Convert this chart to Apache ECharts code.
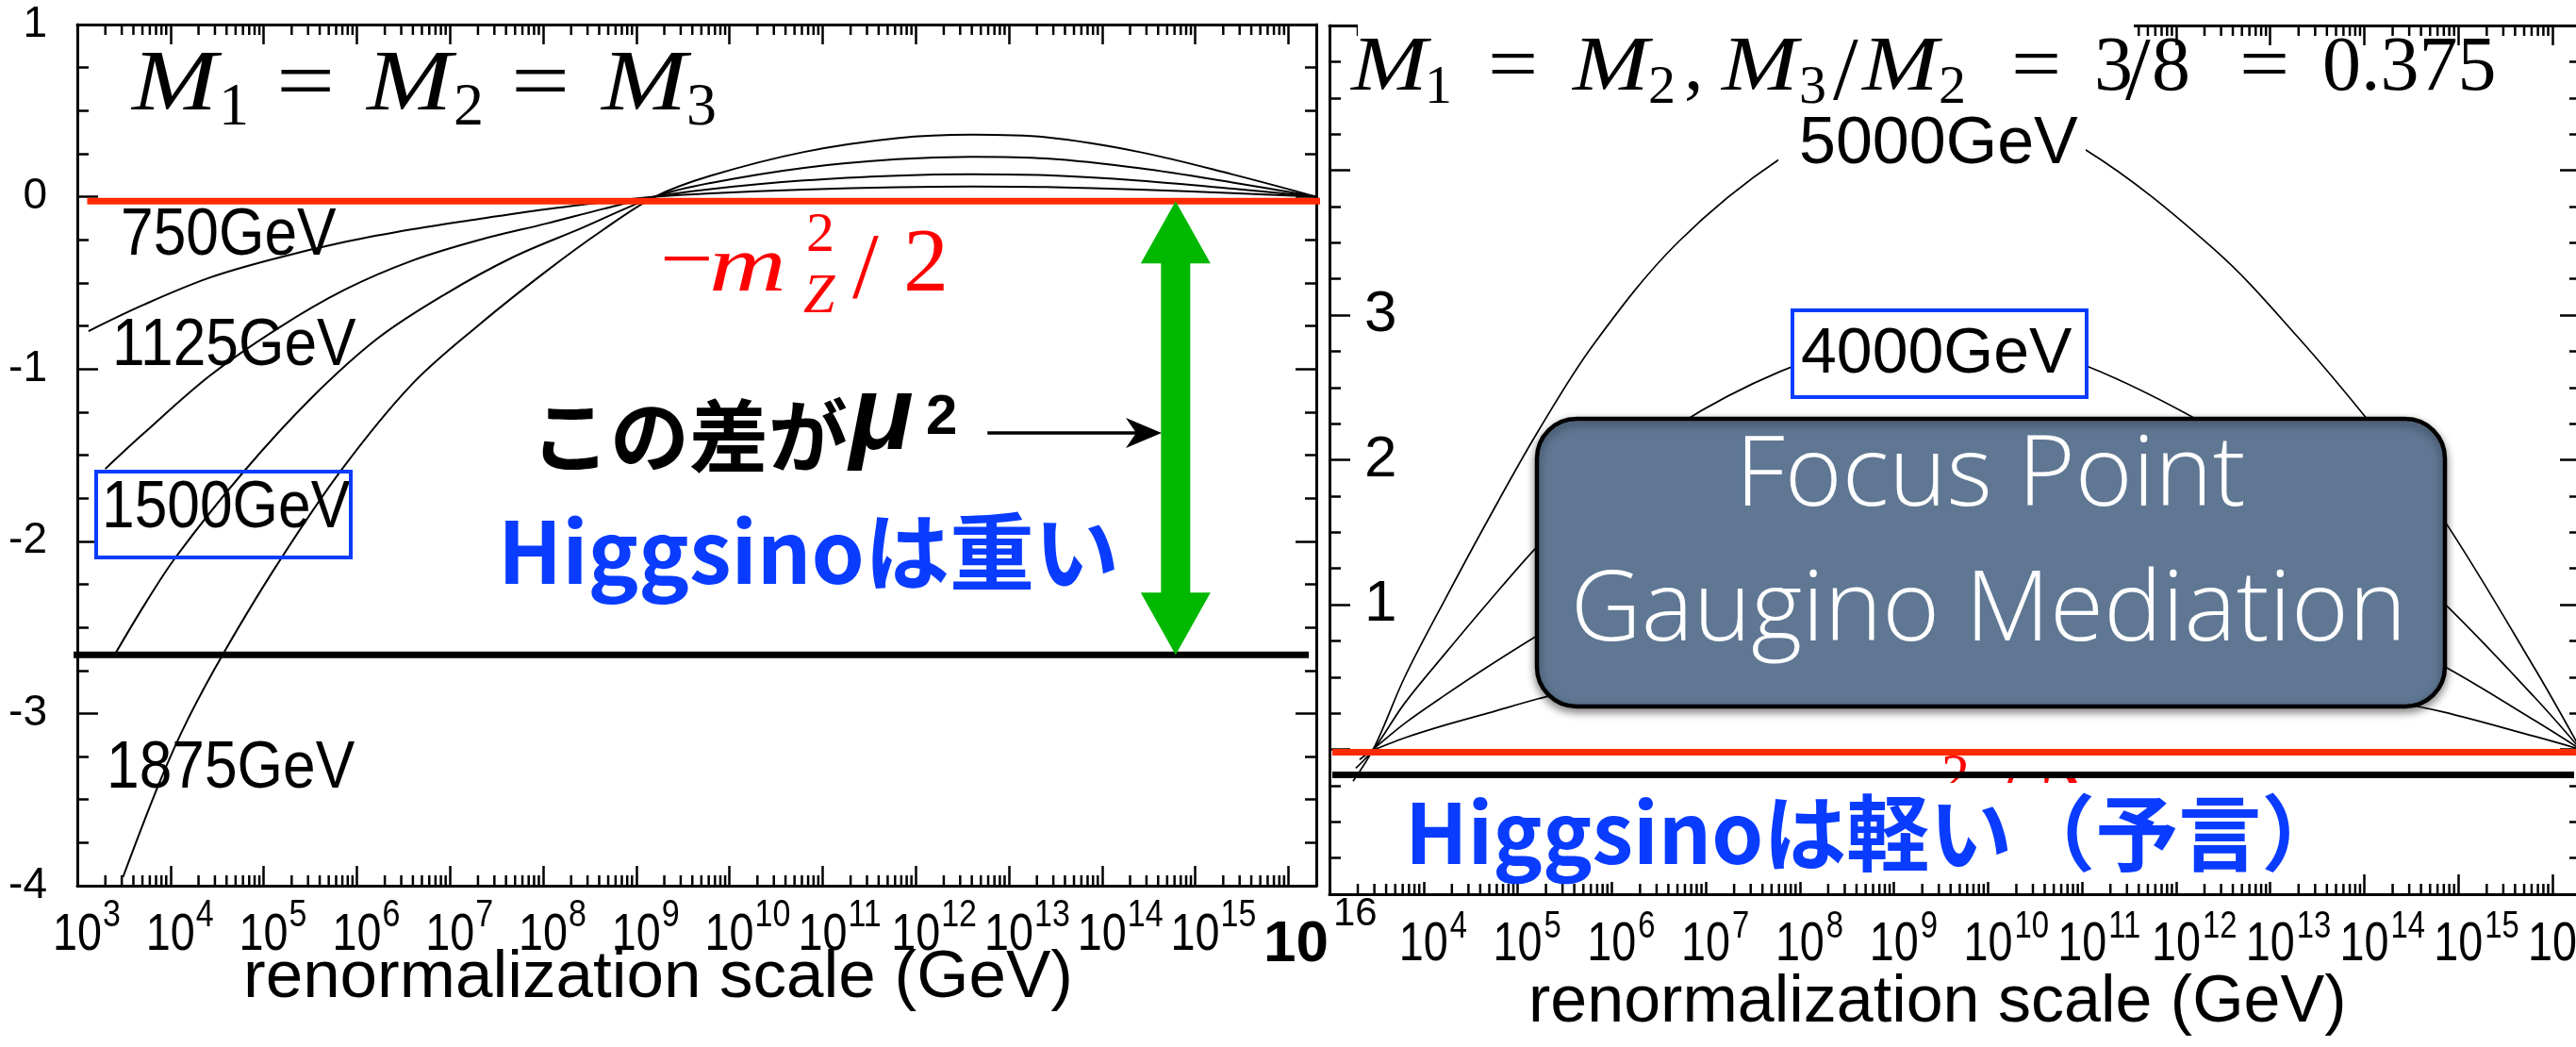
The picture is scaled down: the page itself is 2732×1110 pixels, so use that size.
<!DOCTYPE html>
<html>
<head>
<meta charset="utf-8">
<title>Running of m_Hu^2</title>
<script src="https://cdn.jsdelivr.net/npm/echarts@6.0.0/dist/echarts.min.js"></script>
<style>
  html, body { margin: 0; padding: 0; background: #fff; }
  #chart { width: 2732px; height: 1110px; }
</style>
</head>
<body>
<div id="chart"></div>
<script>
// x = log10(renormalization scale / GeV), y = m_Hu^2 in TeV^2
const scaleMin = 3;
const scaleMax = 16.3;

// Left panel: M1 = M2 = M3
const leftCurveNames = ['750GeV', '1125GeV', '1500GeV', '1875GeV'];
const leftM750 = [[3.12,-0.78],[3.70,-0.63],[4.42,-0.47],[5.15,-0.355],[5.87,-0.262],[6.60,-0.188],[7.32,-0.128],[8.04,-0.072],[8.65,-0.032],[9.20,0],[9.80,0.020],[10.8,0.042],[11.8,0.055],[12.6,0.059],[13.4,0.056],[14.4,0.042],[15.4,0.021],[16.3,0]];
const leftM1125 = [[3.30,-1.58],[3.70,-1.38],[4.42,-1.04],[5.15,-0.765],[5.87,-0.54],[6.60,-0.37],[7.32,-0.25],[8.04,-0.155],[8.65,-0.070],[9.20,0],[9.80,0.045],[10.8,0.095],[11.8,0.123],[12.6,0.131],[13.4,0.125],[14.4,0.094],[15.4,0.047],[16.3,0]];
const leftM1500 = [[3.40,-2.66],[3.72,-2.37],[4.06,-2.09],[4.78,-1.60],[5.51,-1.17],[6.23,-0.82],[6.95,-0.565],[7.68,-0.35],[8.40,-0.185],[9.20,0],[9.80,0.080],[10.8,0.168],[11.8,0.218],[12.6,0.232],[13.4,0.222],[14.4,0.166],[15.4,0.083],[16.3,0]];
const leftM1875 = [[3.49,-3.95],[3.89,-3.39],[4.19,-3.03],[4.58,-2.64],[5.14,-2.14],[5.83,-1.59],[6.59,-1.09],[7.32,-0.74],[8.04,-0.43],[8.65,-0.19],[9.20,0],[9.80,0.122],[10.8,0.26],[11.8,0.34],[12.6,0.36],[13.4,0.345],[14.4,0.26],[15.4,0.13],[16.3,0]];

// Right panel: M1 = M2, M3/M2 = 0.375
const rightCurveNames = ['2000GeV', '3000GeV', '4000GeV', '5000GeV'];
const rightM2000 = [[3.36,-0.025],[3.48,0.0],[3.80,0.08],[4.24,0.17],[4.68,0.25],[5.22,0.35],[5.81,0.45],[6.70,0.56],[7.79,0.65],[8.60,0.69],[9.40,0.71],[10.2,0.70],[11.04,0.66],[12.41,0.55],[13.29,0.46],[14.13,0.35],[14.83,0.26],[15.81,0.09],[16.3,0]];
const rightM3000 = [[3.32,-0.07],[3.48,0.01],[3.80,0.18],[4.24,0.38],[4.68,0.57],[5.22,0.79],[5.81,1.01],[6.70,1.26],[7.79,1.47],[8.60,1.55],[9.40,1.59],[10.2,1.57],[11.04,1.49],[12.41,1.24],[13.29,1.03],[14.13,0.79],[14.83,0.58],[15.81,0.20],[16.3,0]];
const rightM4000 = [[3.28,-0.13],[3.48,0.01],[3.80,0.32],[4.24,0.67],[4.68,1.01],[5.22,1.41],[5.81,1.79],[6.70,2.24],[7.79,2.61],[8.60,2.76],[9.40,2.83],[10.2,2.78],[11.04,2.65],[12.41,2.21],[13.29,1.82],[14.13,1.41],[14.83,1.02],[15.81,0.36],[16.3,0]];
const rightM5000 = [[3.25,-0.22],[3.48,0.02],[3.80,0.50],[4.24,1.05],[4.68,1.58],[5.22,2.20],[5.81,2.80],[6.70,3.50],[7.79,4.08],[8.60,4.32],[9.40,4.42],[10.2,4.35],[11.04,4.14],[12.41,3.45],[13.29,2.85],[14.13,2.20],[14.83,1.60],[15.81,0.56],[16.3,0]];

// Tick labels (powers of ten) shown under each panel
const leftTickExps = [3,4,5,6,7,8,9,10,11,12,13,14,15];
const rightTickExps = [4,5,6,7,8,9,10,11,12,13,14,15,16];
const rightYLabels = [1, 2, 3];

// Horizontal levels: -m_Z^2/2 (red) and the low-scale level (black)
const leftMzLevel = -0.025;
const leftLowLevel = -2.66;
const rightMzLevel = -0.02;
const rightLowLevel = -0.176;
const leftMzSpan = [3.106, 16.563];
const leftLowSpan = [2.91, 16.22];
const rightMzSpan = [3.03, 16.45];
const rightLowSpan = [3.03, 16.23];

// Annotation arrows (log10 Q positions)
const muArrowX = 14.79;
const pointerArrow = [12.77, 14.64, -1.371];

// ---------------------------------------------------------------------
const SERIF = '"Liberation Serif", "DejaVu Serif", serif';
const SANS = '"Liberation Sans", Arial, sans-serif';
const CJK = '"Noto Sans CJK JP", "Noto Sans CJK SC", sans-serif';
const LIGHT = '"Open Sans", Lato, sans-serif';
const FAM = {serif: SERIF, sans: SANS, cjk: CJK, light: LIGHT};
const MID = {serif: 0.3375, sans: 0.3465, cjk: 0.40, light: 0.36};
const BLUE = '#0a3cff';
const ORANGE_RED = '#ff2a00';

// positions of the 2..9 minor ticks inside each decade
const decadeMinorTicks = [];
for (let n = 3; n <= 16; n++) {
  for (let k = 2; k <= 9; k++) {
    const v = n + Math.log10(k);
    if (v < scaleMax) decadeMinorTicks.push(v);
  }
}

function txt(str, x, baseline, size, face, o) {
  o = o || {};
  const el = {
    type: 'text', x: x, y: baseline - MID[face] * size,
    z: o.z != null ? o.z : 20, silent: true,
    style: {
      text: str, fill: o.fill || '#000',
      fontFamily: FAM[face], fontSize: size,
      fontStyle: o.italic ? 'italic' : 'normal',
      fontWeight: o.weight || 'normal',
      align: o.align || 'left', verticalAlign: 'middle'
    }
  };
  if (o.scaleX) el.scaleX = o.scaleX;
  if (o.shadow) Object.assign(el.style, o.shadow);
  return el;
}

function xAxisFor(grid, pos) {
  return {
    type: 'value', gridIndex: grid, position: pos,
    min: scaleMin, max: scaleMax, interval: 1,
    axisLine: {show: true, onZero: false, lineStyle: {color: '#000', width: 3}},
    splitLine: {show: false},
    axisTick: {show: true, inside: true, length: 21, lineStyle: {color: '#000', width: 2.5}},
    axisLabel: {show: false}
  };
}
function yAxisFor(grid, pos, min, max, label) {
  return {
    type: 'value', gridIndex: grid, position: pos, min: min, max: max, interval: 1,
    axisLine: {show: true, onZero: false, lineStyle: {color: '#000', width: 3}},
    splitLine: {show: false},
    axisTick: {show: true, inside: true, length: 22, lineStyle: {color: '#000', width: 2.5}},
    minorTick: {show: true, splitNumber: 4, length: 12, lineStyle: {color: '#000', width: 2.5}},
    axisLabel: label || {show: false}
  };
}

function curve(name, data, xi, yi, width) {
  return {
    name: name, type: 'line', xAxisIndex: xi, yAxisIndex: yi, data: data,
    symbol: 'none', smooth: 0.35, silent: true, z: 2,
    lineStyle: {color: '#000', width: width}
  };
}
function level(data, xi, yi, color) {
  return {
    type: 'line', xAxisIndex: xi, yAxisIndex: yi, data: data, symbol: 'none',
    clip: false, silent: true, z: 2, lineStyle: {color: color, width: 7}
  };
}
function minorTickSeries(xi, yi, yMin, yMax) {
  return {
    type: 'custom', xAxisIndex: xi, yAxisIndex: yi, silent: true, clip: false, z: 3,
    data: decadeMinorTicks.map(function (v) { return [v, yMin]; }),
    encode: {x: 0, y: 1},
    renderItem: function (params, api) {
      const x = api.value(0);
      const b = api.coord([x, yMin]);
      const t = api.coord([x, yMax]);
      const st = {stroke: '#000', lineWidth: 2.5};
      return {type: 'group', children: [
        {type: 'line', shape: {x1: b[0], y1: b[1], x2: b[0], y2: b[1] - 11}, style: st},
        {type: 'line', shape: {x1: t[0], y1: t[1], x2: t[0], y2: t[1] + 11}, style: st}
      ]};
    }
  };
}
// "10^n" labels placed at the decade ticks of the x axis
function powerLabelSeries(xi, yi, exps, yMin, cfg) {
  return {
    type: 'custom', xAxisIndex: xi, yAxisIndex: yi, silent: true, clip: false, z: 4,
    data: exps.map(function (n) { return [n, yMin]; }),
    encode: {x: 0, y: 1},
    renderItem: function (params, api) {
      const n = api.value(0);
      const p = api.coord([n, yMin]);
      return {type: 'group', children: [
        {type: 'text', x: p[0], y: p[1] + cfg.baseDy, scaleX: cfg.sx,
         style: {text: '10', fontFamily: SANS, fontSize: cfg.base, fill: '#000', align: 'center', verticalAlign: 'middle'}},
        {type: 'text', x: p[0] + cfg.supDx, y: p[1] + cfg.supDy, scaleX: cfg.sx,
         style: {text: String(n), fontFamily: SANS, fontSize: cfg.sup, fill: '#000', align: 'left', verticalAlign: 'middle'}}
      ]};
    }
  };
}

// red -m_Z^2/2 label built from pieces (superscript and subscript stacked)
function mzLabel(dx, dy, z) {
  const o = function (extra) { return Object.assign({fill: '#ff0000', z: z}, extra || {}); };
  return [
    txt('\u2212', 700 + dx, 308 + dy, 84, 'serif', o({scaleX: 1.2})),
    txt('m', 752 + dx, 314 + dy, 84, 'serif', o({italic: true, scaleX: 1.35})),
    txt('2', 855 + dx, 270 + dy, 60, 'serif', o()),
    txt('Z', 852 + dx, 335 + dy, 60, 'serif', o({italic: true})),
    txt('/', 904 + dx, 322 + dy, 100, 'serif', o()),
    txt('2', 958 + dx, 315 + dy, 96, 'serif', o())
  ];
}

const boxTextShadow = {shadowBlur: 6, shadowColor: 'rgba(0,0,0,0.55)', shadowOffsetY: 2};
const narrowLabel = {scaleX: 0.89};

const graphics = [].concat(
  // left title
  [
    txt('M', 140, 123, 92, 'serif', {italic: true, scaleX: 1.18}),
    txt('1', 232, 137, 64, 'serif'),
    txt('=', 293, 123, 92, 'serif', {scaleX: 1.2}),
    txt('M', 389, 123, 92, 'serif', {italic: true, scaleX: 1.18}),
    txt('2', 481, 137, 64, 'serif'),
    txt('=', 542, 123, 92, 'serif', {scaleX: 1.2}),
    txt('M', 638, 123, 92, 'serif', {italic: true, scaleX: 1.18}),
    txt('3', 728, 137, 64, 'serif')
  ],
  // left curve labels
  [
    txt(leftCurveNames[0], 128, 275, 70, 'sans', narrowLabel),
    txt(leftCurveNames[1], 119, 392, 70, 'sans', narrowLabel),
    txt(leftCurveNames[2], 108, 564, 70, 'sans', narrowLabel),
    txt(leftCurveNames[3], 113, 840, 70, 'sans', narrowLabel),
    {type: 'rect', z: 20, silent: true, shape: {x: 102, y: 500, width: 270, height: 91},
     style: {fill: 'none', stroke: BLUE, lineWidth: 4}}
  ],
  mzLabel(0, 0, 20),
  [
    txt('この差が', 563, 496, 84, 'cjk', {weight: 'bold'}),
    txt('μ', 901, 484, 112, 'sans', {italic: true, weight: 'bold'}),
    txt('2', 982, 464, 60, 'sans', {weight: 'bold'}),
    txt('Higgsinoは重い', 528, 621, 90, 'cjk', {weight: 'bold', fill: BLUE}),
    txt('10', 1340, 1023, 62, 'sans', {weight: 'bold'}),
    txt('16', 1414, 984, 42, 'sans'),
    txt('renormalization scale (GeV)', 258, 1062, 71, 'sans'),
    txt('renormalization scale (GeV)', 1621, 1088, 70, 'sans')
  ],
  // right title on a white backing
  [
    {type: 'rect', z: 19, silent: true, shape: {x: 1440, y: 0, width: 823, height: 124}, style: {fill: '#fff'}},
    txt('M', 1433, 101, 82, 'serif', {italic: true, scaleX: 1.18}),
    txt('1', 1511, 113, 58, 'serif'),
    txt('=', 1578, 101, 82, 'serif', {scaleX: 1.15}),
    txt('M', 1668, 101, 82, 'serif', {italic: true, scaleX: 1.18}),
    txt('2', 1748, 113, 58, 'serif'),
    txt(',', 1786, 101, 82, 'serif'),
    txt('M', 1826, 101, 82, 'serif', {italic: true, scaleX: 1.18}),
    txt('3', 1908, 113, 58, 'serif'),
    txt('/', 1944, 112, 96, 'serif'),
    txt('M', 1975, 101, 82, 'serif', {italic: true, scaleX: 1.18}),
    txt('2', 2056, 113, 58, 'serif'),
    txt('=', 2133, 101, 82, 'serif', {scaleX: 1.15}),
    txt('3', 2221, 101, 82, 'serif'),
    txt('/', 2254, 112, 96, 'serif'),
    txt('8', 2282, 101, 82, 'serif'),
    txt('=', 2375, 101, 82, 'serif', {scaleX: 1.15}),
    txt('0.375', 2463, 101, 82, 'serif')
  ],
  // right curve labels
  [
    {type: 'rect', z: 19, silent: true, shape: {x: 1886, y: 118, width: 326, height: 72}, style: {fill: '#fff'}},
    txt(rightCurveNames[3], 1908, 178, 70, 'sans'),
    {type: 'rect', z: 19, silent: true, shape: {x: 1901, y: 329, width: 312, height: 92},
     style: {fill: '#fff', stroke: BLUE, lineWidth: 4}},
    txt(rightCurveNames[2], 1910, 400, 68, 'sans')
  ],
  // Focus Point box
  [
    {type: 'rect', z: 30, silent: true, shape: {x: 1630, y: 444, width: 963, height: 305, r: 42},
     style: {fill: '#5f7793', stroke: '#000', lineWidth: 4.5,
             shadowBlur: 10, shadowColor: 'rgba(0,0,0,0.45)', shadowOffsetY: 4}},
    txt('Focus Point', 2111, 544, 104, 'light', {align: 'center', fill: '#fff', z: 31, weight: 300, shadow: boxTextShadow}),
    txt('Gaugino Mediation', 2109, 687, 104, 'light', {align: 'center', fill: '#fff', z: 31, weight: 300, shadow: boxTextShadow})
  ],
  // red label of the right panel, mostly under the prediction caption
  mzLabel(1204, 574, 1),
  [
    {type: 'rect', z: 20, silent: true, shape: {x: 1440, y: 830, width: 1020, height: 105}, style: {fill: '#fff'}},
    txt('Higgsinoは軽い（予言）', 1490, 918, 88, 'cjk', {weight: 'bold', fill: BLUE, z: 21})
  ]
);

const option = {
  animation: false,
  backgroundColor: '#fff',
  grid: [
    {left: 82, top: 26, width: 1314, height: 913, containLabel: false, outerBoundsMode: 'none'},
    {left: 1410, top: 27, width: 1327, height: 921, containLabel: false, outerBoundsMode: 'none'}
  ],
  xAxis: [
    xAxisFor(0, 'bottom'),
    xAxisFor(0, 'top'),
    xAxisFor(1, 'bottom'),
    xAxisFor(1, 'top')
  ],
  yAxis: [
    yAxisFor(0, 'left', -4, 1, {show: true, showMinLabel: true, showMaxLabel: true, margin: 32,
      fontFamily: SANS, fontSize: 46, color: '#000'}),
    yAxisFor(0, 'right', -4, 1),
    yAxisFor(1, 'left', -1, 5, {show: true, inside: true, margin: 37, fontFamily: SANS, fontSize: 62, color: '#000',
      formatter: function (v) { return rightYLabels.indexOf(v) >= 0 ? String(v) : ''; }}),
    yAxisFor(1, 'right', -1, 5)
  ],
  series: [
    curve(leftCurveNames[0], leftM750, 0, 0, 2),
    curve(leftCurveNames[1], leftM1125, 0, 0, 2),
    curve(leftCurveNames[2], leftM1500, 0, 0, 2),
    curve(leftCurveNames[3], leftM1875, 0, 0, 2),
    curve(rightCurveNames[0], rightM2000, 2, 2, 1.7),
    curve(rightCurveNames[1], rightM3000, 2, 2, 1.7),
    curve(rightCurveNames[2], rightM4000, 2, 2, 1.7),
    curve(rightCurveNames[3], rightM5000, 2, 2, 1.7),
    level([[leftMzSpan[0], leftMzLevel], [leftMzSpan[1], leftMzLevel]], 0, 0, ORANGE_RED),
    level([[leftLowSpan[0], leftLowLevel], [leftLowSpan[1], leftLowLevel]], 0, 0, '#000'),
    level([[rightMzSpan[0], rightMzLevel], [rightMzSpan[1], rightMzLevel]], 2, 2, ORANGE_RED),
    level([[rightLowSpan[0], rightLowLevel], [rightLowSpan[1], rightLowLevel]], 2, 2, '#000'),
    minorTickSeries(0, 0, -4, 1),
    minorTickSeries(2, 2, -1, 5),
    powerLabelSeries(0, 0, leftTickExps, -4, {base: 55, sup: 40, sx: 0.85, baseDy: 53, supDy: 32, supDx: 27}),
    powerLabelSeries(2, 2, rightTickExps, -1, {base: 57, sup: 40, sx: 0.82, baseDy: 54, supDy: 35, supDx: 28}),
    {
      // green double arrow spanning the gap between the two levels
      type: 'custom', xAxisIndex: 0, yAxisIndex: 0, silent: true, clip: false, z: 6,
      data: [[muArrowX, leftMzLevel, leftLowLevel]],
      encode: {x: 0, y: [1, 2]},
      renderItem: function (params, api) {
        const a = api.coord([api.value(0), api.value(1)]);
        const b = api.coord([api.value(0), api.value(2)]);
        const cx = a[0], y1 = a[1], y2 = b[1];
        const hw = 37, hl = 66, sw = 15.5;
        return {type: 'polygon', shape: {points: [
          [cx, y1], [cx + hw, y1 + hl], [cx + sw, y1 + hl], [cx + sw, y2 - hl], [cx + hw, y2 - hl],
          [cx, y2], [cx - hw, y2 - hl], [cx - sw, y2 - hl], [cx - sw, y1 + hl], [cx - hw, y1 + hl]
        ]}, style: {fill: '#00b800'}};
      }
    },
    {
      // pointer from the caption to the green arrow
      type: 'custom', xAxisIndex: 0, yAxisIndex: 0, silent: true, clip: false, z: 6,
      data: [pointerArrow],
      encode: {x: [0, 1], y: 2},
      renderItem: function (params, api) {
        const p0 = api.coord([api.value(0), api.value(2)]);
        const p1 = api.coord([api.value(1), api.value(2)]);
        const y = p0[1];
        return {type: 'group', children: [
          {type: 'line', shape: {x1: p0[0], y1: y, x2: p1[0] - 20, y2: y}, style: {stroke: '#000', lineWidth: 3.5}},
          {type: 'polygon', shape: {points: [[p1[0], y], [p1[0] - 38, y - 16], [p1[0] - 27, y], [p1[0] - 38, y + 16]]},
           style: {fill: '#000'}}
        ]};
      }
    }
  ],
  graphic: {elements: graphics}
};

const chart = echarts.init(document.getElementById('chart'), null, {renderer: 'canvas'});
chart.setOption(option);
</script>
</body>
</html>
